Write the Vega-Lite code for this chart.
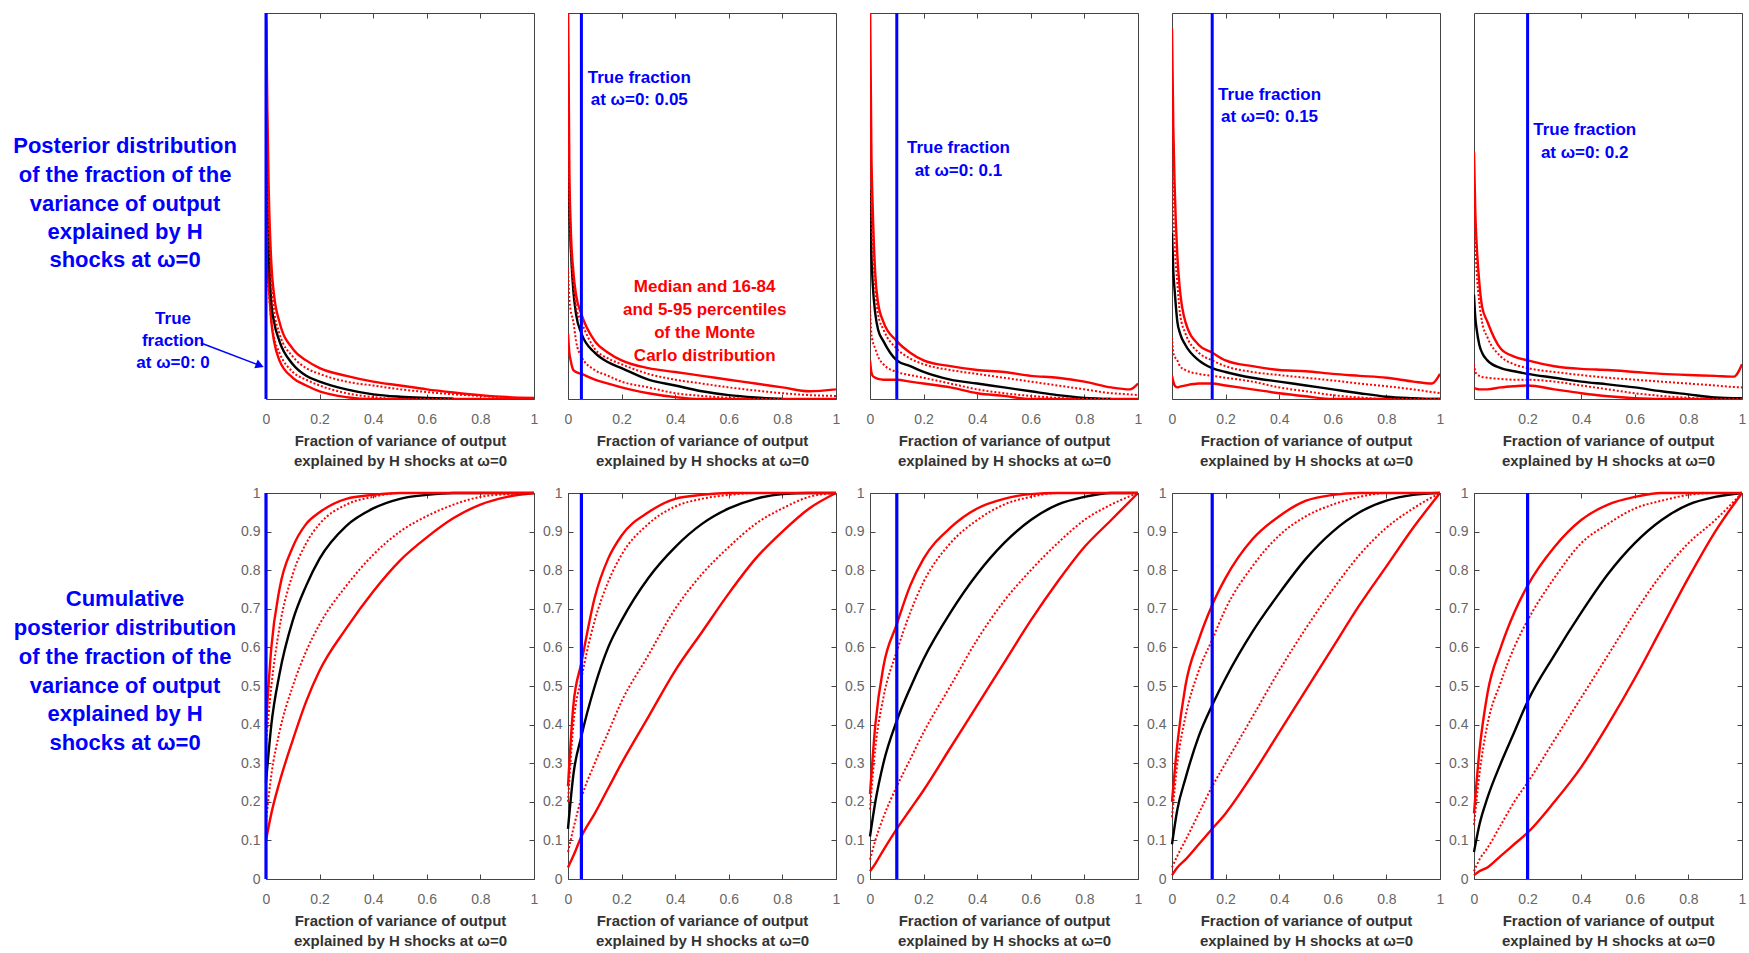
{
"$schema":"https://vega.github.io/schema/vega-lite/v6.json",
"padding":{"left":0,"top":11,"right":0,"bottom":0},
"background":"white",
"config":{"view":{"stroke":"#444","strokeWidth":1},"font":"Liberation Sans",
 "axis":{"labelFont":"Liberation Sans","labelFontSize":14,"labelColor":"#666","titleFont":"Liberation Sans","titleFontSize":15,"titleFontWeight":"bold","titleColor":"#333","tickColor":"#444","tickSize":-5,"domain":false,"grid":false,"labelFlush":false,"labelOverlap":false,"labelBound":false}},
"datasets":{
"dens":[
{"p":1,"x":0,"lo5":0.42,"lo16":0.45,"med":0.98,"hi84":0.65,"hi95":1.05},
{"p":1,"x":0.005,"lo5":0.35,"lo16":0.32,"med":0.6,"hi84":0.55,"hi95":0.75},
{"p":1,"x":0.01,"lo5":0.3,"lo16":0.28,"med":0.4,"hi84":0.45,"hi95":0.55},
{"p":1,"x":0.02,"lo5":0.2,"lo16":0.2,"med":0.25,"hi84":0.3,"hi95":0.35},
{"p":1,"x":0.03,"lo5":0.15,"lo16":0.16,"med":0.2,"hi84":0.23,"hi95":0.27},
{"p":1,"x":0.05,"lo5":0.1,"lo16":0.12,"med":0.15,"hi84":0.17,"hi95":0.2},
{"p":1,"x":0.1,"lo5":0.055,"lo16":0.07,"med":0.09,"hi84":0.11,"hi95":0.13},
{"p":1,"x":0.15,"lo5":0.035,"lo16":0.05,"med":0.06,"hi84":0.08,"hi95":0.1},
{"p":1,"x":0.2,"lo5":0.02,"lo16":0.035,"med":0.045,"hi84":0.065,"hi95":0.08},
{"p":1,"x":0.3,"lo5":0.005,"lo16":0.015,"med":0.025,"hi84":0.045,"hi95":0.06},
{"p":1,"x":0.4,"lo5":0,"lo16":0.005,"med":0.012,"hi84":0.035,"hi95":0.045},
{"p":1,"x":0.5,"lo5":0,"lo16":0,"med":0.006,"hi84":0.025,"hi95":0.035},
{"p":1,"x":0.6,"lo5":0,"lo16":0,"med":0.003,"hi84":0.018,"hi95":0.025},
{"p":1,"x":0.7,"lo5":0,"lo16":0,"med":0.001,"hi84":0.012,"hi95":0.017},
{"p":1,"x":0.8,"lo5":0,"lo16":0,"med":null,"hi84":0.008,"hi95":0.01},
{"p":1,"x":0.9,"lo5":0,"lo16":0,"med":null,"hi84":0.003,"hi95":0.005},
{"p":1,"x":1,"lo5":0,"lo16":0,"med":null,"hi84":0,"hi95":0.003},
{"p":2,"x":0,"lo5":0.17,"lo16":0.34,"med":0.66,"hi84":0.95,"hi95":1.05},
{"p":2,"x":0.005,"lo5":0.12,"lo16":0.26,"med":0.5,"hi84":0.5,"hi95":0.6},
{"p":2,"x":0.01,"lo5":0.1,"lo16":0.23,"med":0.4,"hi84":0.4,"hi95":0.45},
{"p":2,"x":0.02,"lo5":0.075,"lo16":0.2,"med":0.28,"hi84":0.3,"hi95":0.33},
{"p":2,"x":0.03,"lo5":0.07,"lo16":0.15,"med":0.22,"hi84":0.24,"hi95":0.27},
{"p":2,"x":0.05,"lo5":0.065,"lo16":0.11,"med":0.17,"hi84":0.2,"hi95":0.22},
{"p":2,"x":0.1,"lo5":0.05,"lo16":0.075,"med":0.12,"hi84":0.13,"hi95":0.15},
{"p":2,"x":0.15,"lo5":0.04,"lo16":0.06,"med":0.095,"hi84":0.105,"hi95":0.12},
{"p":2,"x":0.2,"lo5":0.03,"lo16":0.045,"med":0.08,"hi84":0.09,"hi95":0.1},
{"p":2,"x":0.3,"lo5":0.015,"lo16":0.03,"med":0.05,"hi84":0.065,"hi95":0.08},
{"p":2,"x":0.4,"lo5":0.005,"lo16":0.015,"med":0.035,"hi84":0.05,"hi95":0.07},
{"p":2,"x":0.5,"lo5":0,"lo16":0.008,"med":0.02,"hi84":0.04,"hi95":0.06},
{"p":2,"x":0.6,"lo5":0,"lo16":0.003,"med":0.01,"hi84":0.03,"hi95":0.05},
{"p":2,"x":0.7,"lo5":0,"lo16":0,"med":0.004,"hi84":0.022,"hi95":0.04},
{"p":2,"x":0.8,"lo5":0,"lo16":0,"med":0,"hi84":0.015,"hi95":0.03},
{"p":2,"x":0.9,"lo5":0,"lo16":0,"med":null,"hi84":0.01,"hi95":0.02},
{"p":2,"x":1,"lo5":0,"lo16":0,"med":null,"hi84":0.008,"hi95":0.025},
{"p":3,"x":0,"lo5":0.1,"lo16":0.24,"med":0.54,"hi84":0.87,"hi95":1.05},
{"p":3,"x":0.005,"lo5":0.07,"lo16":0.17,"med":0.38,"hi84":0.5,"hi95":0.65},
{"p":3,"x":0.01,"lo5":0.06,"lo16":0.15,"med":0.3,"hi84":0.4,"hi95":0.5},
{"p":3,"x":0.02,"lo5":0.055,"lo16":0.13,"med":0.22,"hi84":0.28,"hi95":0.32},
{"p":3,"x":0.03,"lo5":0.052,"lo16":0.11,"med":0.18,"hi84":0.22,"hi95":0.25},
{"p":3,"x":0.05,"lo5":0.05,"lo16":0.09,"med":0.15,"hi84":0.18,"hi95":0.2},
{"p":3,"x":0.1,"lo5":0.05,"lo16":0.07,"med":0.1,"hi84":0.13,"hi95":0.15},
{"p":3,"x":0.15,"lo5":0.045,"lo16":0.062,"med":0.085,"hi84":0.105,"hi95":0.12},
{"p":3,"x":0.2,"lo5":0.04,"lo16":0.055,"med":0.07,"hi84":0.09,"hi95":0.1},
{"p":3,"x":0.3,"lo5":0.03,"lo16":0.04,"med":0.05,"hi84":0.075,"hi95":0.085},
{"p":3,"x":0.4,"lo5":0.015,"lo16":0.025,"med":0.04,"hi84":0.065,"hi95":0.075},
{"p":3,"x":0.5,"lo5":0.008,"lo16":0.015,"med":0.03,"hi84":0.055,"hi95":0.07},
{"p":3,"x":0.6,"lo5":0,"lo16":0.008,"med":0.02,"hi84":0.045,"hi95":0.06},
{"p":3,"x":0.7,"lo5":0,"lo16":0.003,"med":0.01,"hi84":0.035,"hi95":0.055},
{"p":3,"x":0.8,"lo5":0,"lo16":0,"med":0.003,"hi84":0.025,"hi95":0.045},
{"p":3,"x":0.9,"lo5":0,"lo16":0,"med":0,"hi84":0.015,"hi95":0.03},
{"p":3,"x":0.97,"lo5":0,"lo16":0,"med":null,"hi84":0.012,"hi95":0.025},
{"p":3,"x":1,"lo5":0,"lo16":0,"med":null,"hi84":0.01,"hi95":0.04},
{"p":4,"x":0,"lo5":0.06,"lo16":0.16,"med":0.43,"hi84":0.8,"hi95":0.96},
{"p":4,"x":0.005,"lo5":0.045,"lo16":0.12,"med":0.33,"hi84":0.5,"hi95":0.7},
{"p":4,"x":0.01,"lo5":0.035,"lo16":0.11,"med":0.28,"hi84":0.4,"hi95":0.55},
{"p":4,"x":0.02,"lo5":0.03,"lo16":0.1,"med":0.2,"hi84":0.3,"hi95":0.37},
{"p":4,"x":0.03,"lo5":0.032,"lo16":0.085,"med":0.17,"hi84":0.22,"hi95":0.28},
{"p":4,"x":0.05,"lo5":0.035,"lo16":0.075,"med":0.14,"hi84":0.17,"hi95":0.2},
{"p":4,"x":0.1,"lo5":0.04,"lo16":0.065,"med":0.1,"hi84":0.12,"hi95":0.14},
{"p":4,"x":0.15,"lo5":0.04,"lo16":0.06,"med":0.08,"hi84":0.1,"hi95":0.12},
{"p":4,"x":0.2,"lo5":0.035,"lo16":0.055,"med":0.07,"hi84":0.085,"hi95":0.1},
{"p":4,"x":0.3,"lo5":0.025,"lo16":0.045,"med":0.055,"hi84":0.07,"hi95":0.085},
{"p":4,"x":0.4,"lo5":0.015,"lo16":0.03,"med":0.045,"hi84":0.062,"hi95":0.075},
{"p":4,"x":0.5,"lo5":0.007,"lo16":0.02,"med":0.035,"hi84":0.055,"hi95":0.072},
{"p":4,"x":0.6,"lo5":0,"lo16":0.01,"med":0.025,"hi84":0.048,"hi95":0.065},
{"p":4,"x":0.7,"lo5":0,"lo16":0.004,"med":0.015,"hi84":0.04,"hi95":0.06},
{"p":4,"x":0.8,"lo5":0,"lo16":0,"med":0.006,"hi84":0.033,"hi95":0.055},
{"p":4,"x":0.9,"lo5":0,"lo16":0,"med":0.002,"hi84":0.025,"hi95":0.045},
{"p":4,"x":0.97,"lo5":0,"lo16":0,"med":0,"hi84":0.018,"hi95":0.04},
{"p":4,"x":1,"lo5":0,"lo16":0,"med":0,"hi84":0.015,"hi95":0.065},
{"p":5,"x":0,"lo5":0.03,"lo16":0.09,"med":0.27,"hi84":0.5,"hi95":0.64},
{"p":5,"x":0.005,"lo5":0.027,"lo16":0.07,"med":0.21,"hi84":0.4,"hi95":0.48},
{"p":5,"x":0.01,"lo5":0.026,"lo16":0.065,"med":0.18,"hi84":0.33,"hi95":0.4},
{"p":5,"x":0.02,"lo5":0.025,"lo16":0.06,"med":0.14,"hi84":0.25,"hi95":0.3},
{"p":5,"x":0.03,"lo5":0.025,"lo16":0.057,"med":0.12,"hi84":0.2,"hi95":0.24},
{"p":5,"x":0.05,"lo5":0.025,"lo16":0.055,"med":0.1,"hi84":0.16,"hi95":0.2},
{"p":5,"x":0.1,"lo5":0.03,"lo16":0.052,"med":0.08,"hi84":0.11,"hi95":0.13},
{"p":5,"x":0.15,"lo5":0.033,"lo16":0.05,"med":0.072,"hi84":0.09,"hi95":0.11},
{"p":5,"x":0.2,"lo5":0.035,"lo16":0.05,"med":0.065,"hi84":0.08,"hi95":0.1},
{"p":5,"x":0.3,"lo5":0.025,"lo16":0.045,"med":0.055,"hi84":0.07,"hi95":0.085},
{"p":5,"x":0.4,"lo5":0.015,"lo16":0.035,"med":0.045,"hi84":0.062,"hi95":0.078},
{"p":5,"x":0.5,"lo5":0.007,"lo16":0.025,"med":0.038,"hi84":0.055,"hi95":0.075},
{"p":5,"x":0.6,"lo5":0.002,"lo16":0.015,"med":0.03,"hi84":0.05,"hi95":0.07},
{"p":5,"x":0.7,"lo5":0,"lo16":0.008,"med":0.02,"hi84":0.045,"hi95":0.065},
{"p":5,"x":0.8,"lo5":0,"lo16":0.003,"med":0.012,"hi84":0.04,"hi95":0.062},
{"p":5,"x":0.9,"lo5":0,"lo16":0,"med":0.004,"hi84":0.035,"hi95":0.06},
{"p":5,"x":0.97,"lo5":0,"lo16":0,"med":0.002,"hi84":0.031,"hi95":0.058},
{"p":5,"x":1,"lo5":0,"lo16":0,"med":0.002,"hi84":0.03,"hi95":0.09}
],
"cdf":[
{"p":1,"x":0,"lo5":0.1,"lo16":0.15,"med":0.25,"hi84":0.35,"hi95":0.4},
{"p":1,"x":0.02,"lo5":0.17,"lo16":0.27,"med":0.4,"hi84":0.5,"hi95":0.6},
{"p":1,"x":0.05,"lo5":0.25,"lo16":0.38,"med":0.53,"hi84":0.65,"hi95":0.75},
{"p":1,"x":0.1,"lo5":0.36,"lo16":0.5,"med":0.67,"hi84":0.79,"hi95":0.86},
{"p":1,"x":0.15,"lo5":0.46,"lo16":0.59,"med":0.76,"hi84":0.87,"hi95":0.92},
{"p":1,"x":0.2,"lo5":0.54,"lo16":0.66,"med":0.83,"hi84":0.92,"hi95":0.95},
{"p":1,"x":0.3,"lo5":0.65,"lo16":0.76,"med":0.915,"hi84":0.97,"hi95":0.985},
{"p":1,"x":0.4,"lo5":0.745,"lo16":0.84,"med":0.96,"hi84":0.99,"hi95":0.995},
{"p":1,"x":0.5,"lo5":0.825,"lo16":0.9,"med":0.985,"hi84":1,"hi95":1},
{"p":1,"x":0.6,"lo5":0.885,"lo16":0.94,"med":0.995,"hi84":1,"hi95":1},
{"p":1,"x":0.7,"lo5":0.935,"lo16":0.97,"med":1,"hi84":1,"hi95":1},
{"p":1,"x":0.8,"lo5":0.97,"lo16":0.99,"med":1,"hi84":1,"hi95":1},
{"p":1,"x":0.9,"lo5":0.99,"lo16":0.997,"med":1,"hi84":1,"hi95":1},
{"p":1,"x":1,"lo5":1,"lo16":1,"med":1,"hi84":1,"hi95":1},
{"p":2,"x":0,"lo5":0.03,"lo16":0.07,"med":0.13,"hi84":0.2,"hi95":0.24},
{"p":2,"x":0.02,"lo5":0.06,"lo16":0.13,"med":0.27,"hi84":0.4,"hi95":0.45},
{"p":2,"x":0.05,"lo5":0.11,"lo16":0.21,"med":0.37,"hi84":0.52,"hi95":0.56},
{"p":2,"x":0.1,"lo5":0.17,"lo16":0.3,"med":0.5,"hi84":0.67,"hi95":0.73},
{"p":2,"x":0.15,"lo5":0.235,"lo16":0.38,"med":0.6,"hi84":0.77,"hi95":0.83},
{"p":2,"x":0.2,"lo5":0.3,"lo16":0.46,"med":0.67,"hi84":0.84,"hi95":0.89},
{"p":2,"x":0.3,"lo5":0.42,"lo16":0.58,"med":0.78,"hi84":0.92,"hi95":0.95},
{"p":2,"x":0.4,"lo5":0.54,"lo16":0.7,"med":0.86,"hi84":0.965,"hi95":0.985},
{"p":2,"x":0.5,"lo5":0.64,"lo16":0.79,"med":0.92,"hi84":0.985,"hi95":0.995},
{"p":2,"x":0.6,"lo5":0.74,"lo16":0.86,"med":0.96,"hi84":0.995,"hi95":1},
{"p":2,"x":0.7,"lo5":0.83,"lo16":0.92,"med":0.985,"hi84":1,"hi95":1},
{"p":2,"x":0.8,"lo5":0.9,"lo16":0.96,"med":0.997,"hi84":1,"hi95":1},
{"p":2,"x":0.9,"lo5":0.96,"lo16":0.99,"med":1,"hi84":1,"hi95":1},
{"p":2,"x":1,"lo5":1,"lo16":1,"med":1,"hi84":1,"hi95":1},
{"p":3,"x":0,"lo5":0.02,"lo16":0.05,"med":0.11,"hi84":0.18,"hi95":0.22},
{"p":3,"x":0.02,"lo5":0.04,"lo16":0.1,"med":0.2,"hi84":0.34,"hi95":0.4},
{"p":3,"x":0.05,"lo5":0.075,"lo16":0.16,"med":0.3,"hi84":0.47,"hi95":0.55},
{"p":3,"x":0.1,"lo5":0.13,"lo16":0.24,"med":0.41,"hi84":0.59,"hi95":0.66},
{"p":3,"x":0.15,"lo5":0.18,"lo16":0.31,"med":0.495,"hi84":0.69,"hi95":0.76},
{"p":3,"x":0.2,"lo5":0.23,"lo16":0.38,"med":0.57,"hi84":0.77,"hi95":0.83},
{"p":3,"x":0.3,"lo5":0.34,"lo16":0.5,"med":0.69,"hi84":0.87,"hi95":0.91},
{"p":3,"x":0.4,"lo5":0.45,"lo16":0.62,"med":0.79,"hi84":0.93,"hi95":0.96},
{"p":3,"x":0.5,"lo5":0.56,"lo16":0.72,"med":0.87,"hi84":0.97,"hi95":0.985},
{"p":3,"x":0.6,"lo5":0.67,"lo16":0.8,"med":0.93,"hi84":0.99,"hi95":0.997},
{"p":3,"x":0.7,"lo5":0.77,"lo16":0.87,"med":0.97,"hi84":1,"hi95":1},
{"p":3,"x":0.8,"lo5":0.86,"lo16":0.93,"med":0.99,"hi84":1,"hi95":1},
{"p":3,"x":0.9,"lo5":0.93,"lo16":0.97,"med":1,"hi84":1,"hi95":1},
{"p":3,"x":1,"lo5":1,"lo16":1,"med":1,"hi84":1,"hi95":1},
{"p":4,"x":0,"lo5":0.01,"lo16":0.03,"med":0.09,"hi84":0.16,"hi95":0.2},
{"p":4,"x":0.02,"lo5":0.03,"lo16":0.06,"med":0.18,"hi84":0.3,"hi95":0.35},
{"p":4,"x":0.05,"lo5":0.05,"lo16":0.1,"med":0.26,"hi84":0.42,"hi95":0.5},
{"p":4,"x":0.1,"lo5":0.09,"lo16":0.17,"med":0.37,"hi84":0.54,"hi95":0.62},
{"p":4,"x":0.15,"lo5":0.13,"lo16":0.24,"med":0.45,"hi84":0.62,"hi95":0.71},
{"p":4,"x":0.2,"lo5":0.17,"lo16":0.3,"med":0.52,"hi84":0.7,"hi95":0.78},
{"p":4,"x":0.3,"lo5":0.27,"lo16":0.42,"med":0.64,"hi84":0.81,"hi95":0.88},
{"p":4,"x":0.4,"lo5":0.38,"lo16":0.54,"med":0.74,"hi84":0.89,"hi95":0.94},
{"p":4,"x":0.5,"lo5":0.49,"lo16":0.65,"med":0.83,"hi84":0.94,"hi95":0.98},
{"p":4,"x":0.6,"lo5":0.6,"lo16":0.75,"med":0.9,"hi84":0.97,"hi95":0.995},
{"p":4,"x":0.7,"lo5":0.71,"lo16":0.84,"med":0.95,"hi84":0.99,"hi95":1},
{"p":4,"x":0.8,"lo5":0.81,"lo16":0.91,"med":0.98,"hi84":1,"hi95":1},
{"p":4,"x":0.9,"lo5":0.91,"lo16":0.96,"med":0.995,"hi84":1,"hi95":1},
{"p":4,"x":1,"lo5":1,"lo16":1,"med":1,"hi84":1,"hi95":1},
{"p":5,"x":0,"lo5":0.01,"lo16":0.02,"med":0.07,"hi84":0.14,"hi95":0.17},
{"p":5,"x":0.02,"lo5":0.02,"lo16":0.05,"med":0.14,"hi84":0.27,"hi95":0.33},
{"p":5,"x":0.05,"lo5":0.03,"lo16":0.08,"med":0.21,"hi84":0.4,"hi95":0.48},
{"p":5,"x":0.1,"lo5":0.06,"lo16":0.14,"med":0.3,"hi84":0.51,"hi95":0.6},
{"p":5,"x":0.15,"lo5":0.09,"lo16":0.2,"med":0.38,"hi84":0.6,"hi95":0.69},
{"p":5,"x":0.2,"lo5":0.12,"lo16":0.25,"med":0.46,"hi84":0.67,"hi95":0.76},
{"p":5,"x":0.3,"lo5":0.2,"lo16":0.36,"med":0.58,"hi84":0.78,"hi95":0.86},
{"p":5,"x":0.4,"lo5":0.29,"lo16":0.47,"med":0.69,"hi84":0.87,"hi95":0.93},
{"p":5,"x":0.5,"lo5":0.4,"lo16":0.58,"med":0.79,"hi84":0.92,"hi95":0.97},
{"p":5,"x":0.6,"lo5":0.52,"lo16":0.69,"med":0.87,"hi84":0.96,"hi95":0.99},
{"p":5,"x":0.7,"lo5":0.65,"lo16":0.79,"med":0.93,"hi84":0.98,"hi95":1},
{"p":5,"x":0.8,"lo5":0.78,"lo16":0.87,"med":0.97,"hi84":0.995,"hi95":1},
{"p":5,"x":0.9,"lo5":0.9,"lo16":0.93,"med":0.99,"hi84":1,"hi95":1},
{"p":5,"x":1,"lo5":1,"lo16":1,"med":1,"hi84":1,"hi95":1}
],
"truth":[{"p":1,"t":0},{"p":2,"t":0.05},{"p":3,"t":0.1},{"p":4,"t":0.15},{"p":5,"t":0.2}],
"notes":[
{"p":2,"x":0.266,"y":0.832,"c":"b","text":"True fraction"},
{"p":2,"x":0.266,"y":0.774,"c":"b","text":"at ω=0: 0.05"},
{"p":2,"x":0.51,"y":0.289,"c":"r","text":"Median and 16-84"},
{"p":2,"x":0.51,"y":0.231,"c":"r","text":"and 5-95 percentiles"},
{"p":2,"x":0.51,"y":0.171,"c":"r","text":"of the Monte"},
{"p":2,"x":0.51,"y":0.111,"c":"r","text":"Carlo distribution"},
{"p":3,"x":0.33,"y":0.649,"c":"b","text":"True fraction"},
{"p":3,"x":0.33,"y":0.591,"c":"b","text":"at ω=0: 0.1"},
{"p":4,"x":0.364,"y":0.788,"c":"b","text":"True fraction"},
{"p":4,"x":0.364,"y":0.73,"c":"b","text":"at ω=0: 0.15"},
{"p":5,"x":0.413,"y":0.696,"c":"b","text":"True fraction"},
{"p":5,"x":0.413,"y":0.638,"c":"b","text":"at ω=0: 0.2"}
],
"left":[
{"r":1,"k":"t","x":0.539,"y":0.655,"text":"Posterior distribution"},
{"r":1,"k":"t","x":0.539,"y":0.58,"text":"of the fraction of the"},
{"r":1,"k":"t","x":0.539,"y":0.505,"text":"variance of output"},
{"r":1,"k":"t","x":0.539,"y":0.433,"text":"explained by H"},
{"r":1,"k":"t","x":0.539,"y":0.36,"text":"shocks at ω=0"},
{"r":1,"k":"n","x":0.746,"y":0.207,"text":"True"},
{"r":1,"k":"n","x":0.746,"y":0.15,"text":"fraction"},
{"r":1,"k":"n","x":0.746,"y":0.093,"text":"at ω=0: 0"},
{"r":2,"k":"t","x":0.539,"y":0.725,"text":"Cumulative"},
{"r":2,"k":"t","x":0.539,"y":0.65,"text":"posterior distribution"},
{"r":2,"k":"t","x":0.539,"y":0.575,"text":"of the fraction of the"},
{"r":2,"k":"t","x":0.539,"y":0.5,"text":"variance of output"},
{"r":2,"k":"t","x":0.539,"y":0.427,"text":"explained by H"},
{"r":2,"k":"t","x":0.539,"y":0.352,"text":"shocks at ω=0"}
],
"arrow":[{"x":0.866,"y":0.145,"x2":1.12,"y2":0.087}]
},
"columns":6,
"spacing":{"row":94,"column":34},
"bounds":"flush",
"concat":[
 {"width":232,"height":386,"view":{"stroke":null},
  "layer":[
   {"data":{"name":"left"},"transform":[{"filter":"datum.r==1 && datum.k=='t'"}],"mark":{"type":"text","fontSize":22,"fontWeight":"bold","color":"#0000ff","align":"center","baseline":"middle"},"encoding":{"x":{"field":"x","type":"quantitative","scale":{"domain":[0,1]},"axis":null},"y":{"field":"y","type":"quantitative","scale":{"domain":[0,1]},"axis":null},"text":{"field":"text"}}},
   {"data":{"name":"left"},"transform":[{"filter":"datum.r==1 && datum.k=='n'"}],"mark":{"type":"text","fontSize":17,"fontWeight":"bold","color":"#0000ff","align":"center","baseline":"middle"},"encoding":{"x":{"field":"x","type":"quantitative","axis":null},"y":{"field":"y","type":"quantitative","axis":null},"text":{"field":"text"}}},
   {"data":{"name":"arrow"},"mark":{"type":"rule","color":"#0000ff","strokeWidth":1.5},"encoding":{"x":{"field":"x","type":"quantitative","axis":null},"y":{"field":"y","type":"quantitative","axis":null},"x2":{"field":"x2"},"y2":{"field":"y2"}}},
   {"data":{"name":"arrow"},"mark":{"type":"point","shape":"triangle-right","filled":true,"color":"#0000ff","size":90,"angle":21,"opacity":1},"encoding":{"x":{"field":"x2","type":"quantitative","axis":null},"y":{"field":"y2","type":"quantitative","axis":null}}}
  ]},
  {"width":268,"height":386,"resolve":{"axis":{"x":"independent","y":"independent"},"scale":{"color":"independent"}},"layer":[
   {"data":{"name":"dens"},"transform":[{"filter":"datum.p==1"},{"fold":["lo5","med","hi95"],"as":["s","v"]},{"filter":"isValid(datum.v)"}],"mark":{"type":"line","clip":true,"interpolate":"monotone","strokeWidth":2.4},"encoding":{"x":{"field":"x","type":"quantitative","scale":{"domain":[0,1]},"axis":{"orient":"bottom","values":[0,0.2,0.4,0.6,0.8,1],"format":".1~f","labelPadding":18,"title":["Fraction of variance of output","explained by H shocks at ω=0"],"titlePadding":7,"titleLineHeight":20}},"y":{"field":"v","type":"quantitative","scale":{"domain":[0,1]},"axis":null},"color":{"field":"s","type":"nominal","scale":{"domain":["lo5","med","hi95"],"range":["#ff0000","#000000","#ff0000"]},"legend":null}}},
   {"data":{"name":"dens"},"transform":[{"filter":"datum.p==1"},{"fold":["lo16","hi84"],"as":["s","v"]},{"filter":"isValid(datum.v)"}],"mark":{"type":"line","clip":true,"interpolate":"monotone","strokeWidth":2,"strokeDash":[2,2],"color":"#ff0000"},"encoding":{"x":{"field":"x","type":"quantitative","axis":{"orient":"top","values":[0,0.2,0.4,0.6,0.8,1],"labels":false,"title":null}},"y":{"field":"v","type":"quantitative","axis":null},"detail":{"field":"s"}}},
   {"data":{"name":"truth"},"transform":[{"filter":"datum.p==1"}],"mark":{"type":"rule","color":"#0000ff","strokeWidth":3},"encoding":{"x":{"field":"t","type":"quantitative","axis":null}}}
  ]},
  {"width":268,"height":386,"resolve":{"axis":{"x":"independent","y":"independent"},"scale":{"color":"independent"}},"layer":[
   {"data":{"name":"dens"},"transform":[{"filter":"datum.p==2"},{"fold":["lo5","med","hi95"],"as":["s","v"]},{"filter":"isValid(datum.v)"}],"mark":{"type":"line","clip":true,"interpolate":"monotone","strokeWidth":2.4},"encoding":{"x":{"field":"x","type":"quantitative","scale":{"domain":[0,1]},"axis":{"orient":"bottom","values":[0,0.2,0.4,0.6,0.8,1],"format":".1~f","labelPadding":18,"title":["Fraction of variance of output","explained by H shocks at ω=0"],"titlePadding":7,"titleLineHeight":20}},"y":{"field":"v","type":"quantitative","scale":{"domain":[0,1]},"axis":null},"color":{"field":"s","type":"nominal","scale":{"domain":["lo5","med","hi95"],"range":["#ff0000","#000000","#ff0000"]},"legend":null}}},
   {"data":{"name":"dens"},"transform":[{"filter":"datum.p==2"},{"fold":["lo16","hi84"],"as":["s","v"]},{"filter":"isValid(datum.v)"}],"mark":{"type":"line","clip":true,"interpolate":"monotone","strokeWidth":2,"strokeDash":[2,2],"color":"#ff0000"},"encoding":{"x":{"field":"x","type":"quantitative","axis":{"orient":"top","values":[0,0.2,0.4,0.6,0.8,1],"labels":false,"title":null}},"y":{"field":"v","type":"quantitative","axis":null},"detail":{"field":"s"}}},
   {"data":{"name":"truth"},"transform":[{"filter":"datum.p==2"}],"mark":{"type":"rule","color":"#0000ff","strokeWidth":3},"encoding":{"x":{"field":"t","type":"quantitative","axis":null}}},
   {"data":{"name":"notes"},"transform":[{"filter":"datum.p==2"}],"mark":{"type":"text","fontSize":17,"fontWeight":"bold","align":"center","baseline":"middle"},"encoding":{"x":{"field":"x","type":"quantitative","axis":null},"y":{"field":"y","type":"quantitative","axis":null},"text":{"field":"text"},"color":{"field":"c","type":"nominal","scale":{"domain":["b","r"],"range":["#0000ff","#ff0000"]},"legend":null}}}
  ]},
  {"width":268,"height":386,"resolve":{"axis":{"x":"independent","y":"independent"},"scale":{"color":"independent"}},"layer":[
   {"data":{"name":"dens"},"transform":[{"filter":"datum.p==3"},{"fold":["lo5","med","hi95"],"as":["s","v"]},{"filter":"isValid(datum.v)"}],"mark":{"type":"line","clip":true,"interpolate":"monotone","strokeWidth":2.4},"encoding":{"x":{"field":"x","type":"quantitative","scale":{"domain":[0,1]},"axis":{"orient":"bottom","values":[0,0.2,0.4,0.6,0.8,1],"format":".1~f","labelPadding":18,"title":["Fraction of variance of output","explained by H shocks at ω=0"],"titlePadding":7,"titleLineHeight":20}},"y":{"field":"v","type":"quantitative","scale":{"domain":[0,1]},"axis":null},"color":{"field":"s","type":"nominal","scale":{"domain":["lo5","med","hi95"],"range":["#ff0000","#000000","#ff0000"]},"legend":null}}},
   {"data":{"name":"dens"},"transform":[{"filter":"datum.p==3"},{"fold":["lo16","hi84"],"as":["s","v"]},{"filter":"isValid(datum.v)"}],"mark":{"type":"line","clip":true,"interpolate":"monotone","strokeWidth":2,"strokeDash":[2,2],"color":"#ff0000"},"encoding":{"x":{"field":"x","type":"quantitative","axis":{"orient":"top","values":[0,0.2,0.4,0.6,0.8,1],"labels":false,"title":null}},"y":{"field":"v","type":"quantitative","axis":null},"detail":{"field":"s"}}},
   {"data":{"name":"truth"},"transform":[{"filter":"datum.p==3"}],"mark":{"type":"rule","color":"#0000ff","strokeWidth":3},"encoding":{"x":{"field":"t","type":"quantitative","axis":null}}},
   {"data":{"name":"notes"},"transform":[{"filter":"datum.p==3"}],"mark":{"type":"text","fontSize":17,"fontWeight":"bold","align":"center","baseline":"middle"},"encoding":{"x":{"field":"x","type":"quantitative","axis":null},"y":{"field":"y","type":"quantitative","axis":null},"text":{"field":"text"},"color":{"field":"c","type":"nominal","scale":{"domain":["b","r"],"range":["#0000ff","#ff0000"]},"legend":null}}}
  ]},
  {"width":268,"height":386,"resolve":{"axis":{"x":"independent","y":"independent"},"scale":{"color":"independent"}},"layer":[
   {"data":{"name":"dens"},"transform":[{"filter":"datum.p==4"},{"fold":["lo5","med","hi95"],"as":["s","v"]},{"filter":"isValid(datum.v)"}],"mark":{"type":"line","clip":true,"interpolate":"monotone","strokeWidth":2.4},"encoding":{"x":{"field":"x","type":"quantitative","scale":{"domain":[0,1]},"axis":{"orient":"bottom","values":[0,0.2,0.4,0.6,0.8,1],"format":".1~f","labelPadding":18,"title":["Fraction of variance of output","explained by H shocks at ω=0"],"titlePadding":7,"titleLineHeight":20}},"y":{"field":"v","type":"quantitative","scale":{"domain":[0,1]},"axis":null},"color":{"field":"s","type":"nominal","scale":{"domain":["lo5","med","hi95"],"range":["#ff0000","#000000","#ff0000"]},"legend":null}}},
   {"data":{"name":"dens"},"transform":[{"filter":"datum.p==4"},{"fold":["lo16","hi84"],"as":["s","v"]},{"filter":"isValid(datum.v)"}],"mark":{"type":"line","clip":true,"interpolate":"monotone","strokeWidth":2,"strokeDash":[2,2],"color":"#ff0000"},"encoding":{"x":{"field":"x","type":"quantitative","axis":{"orient":"top","values":[0,0.2,0.4,0.6,0.8,1],"labels":false,"title":null}},"y":{"field":"v","type":"quantitative","axis":null},"detail":{"field":"s"}}},
   {"data":{"name":"truth"},"transform":[{"filter":"datum.p==4"}],"mark":{"type":"rule","color":"#0000ff","strokeWidth":3},"encoding":{"x":{"field":"t","type":"quantitative","axis":null}}},
   {"data":{"name":"notes"},"transform":[{"filter":"datum.p==4"}],"mark":{"type":"text","fontSize":17,"fontWeight":"bold","align":"center","baseline":"middle"},"encoding":{"x":{"field":"x","type":"quantitative","axis":null},"y":{"field":"y","type":"quantitative","axis":null},"text":{"field":"text"},"color":{"field":"c","type":"nominal","scale":{"domain":["b","r"],"range":["#0000ff","#ff0000"]},"legend":null}}}
  ]},
  {"width":268,"height":386,"resolve":{"axis":{"x":"independent","y":"independent"},"scale":{"color":"independent"}},"layer":[
   {"data":{"name":"dens"},"transform":[{"filter":"datum.p==5"},{"fold":["lo5","med","hi95"],"as":["s","v"]},{"filter":"isValid(datum.v)"}],"mark":{"type":"line","clip":true,"interpolate":"monotone","strokeWidth":2.4},"encoding":{"x":{"field":"x","type":"quantitative","scale":{"domain":[0,1]},"axis":{"orient":"bottom","values":[0.2,0.4,0.6,0.8,1],"format":".1~f","labelPadding":18,"title":["Fraction of variance of output","explained by H shocks at ω=0"],"titlePadding":7,"titleLineHeight":20}},"y":{"field":"v","type":"quantitative","scale":{"domain":[0,1]},"axis":null},"color":{"field":"s","type":"nominal","scale":{"domain":["lo5","med","hi95"],"range":["#ff0000","#000000","#ff0000"]},"legend":null}}},
   {"data":{"name":"dens"},"transform":[{"filter":"datum.p==5"},{"fold":["lo16","hi84"],"as":["s","v"]},{"filter":"isValid(datum.v)"}],"mark":{"type":"line","clip":true,"interpolate":"monotone","strokeWidth":2,"strokeDash":[2,2],"color":"#ff0000"},"encoding":{"x":{"field":"x","type":"quantitative","axis":{"orient":"top","values":[0.2,0.4,0.6,0.8,1],"labels":false,"title":null}},"y":{"field":"v","type":"quantitative","axis":null},"detail":{"field":"s"}}},
   {"data":{"name":"truth"},"transform":[{"filter":"datum.p==5"}],"mark":{"type":"rule","color":"#0000ff","strokeWidth":3},"encoding":{"x":{"field":"t","type":"quantitative","axis":null}}},
   {"data":{"name":"notes"},"transform":[{"filter":"datum.p==5"}],"mark":{"type":"text","fontSize":17,"fontWeight":"bold","align":"center","baseline":"middle"},"encoding":{"x":{"field":"x","type":"quantitative","axis":null},"y":{"field":"y","type":"quantitative","axis":null},"text":{"field":"text"},"color":{"field":"c","type":"nominal","scale":{"domain":["b","r"],"range":["#0000ff","#ff0000"]},"legend":null}}}
  ]},
 {"width":232,"height":386,"view":{"stroke":null},
  "layer":[
   {"data":{"name":"left"},"transform":[{"filter":"datum.r==2"}],"mark":{"type":"text","fontSize":22,"fontWeight":"bold","color":"#0000ff","align":"center","baseline":"middle"},"encoding":{"x":{"field":"x","type":"quantitative","scale":{"domain":[0,1]},"axis":null},"y":{"field":"y","type":"quantitative","scale":{"domain":[0,1]},"axis":null},"text":{"field":"text"}}}
  ]},
  {"width":268,"height":386,"resolve":{"axis":{"x":"independent","y":"independent"}},"layer":[
   {"data":{"name":"cdf"},"transform":[{"filter":"datum.p==1"},{"fold":["lo5","med","hi95"],"as":["s","v"]}],"mark":{"type":"line","interpolate":"monotone","strokeWidth":2.4},"encoding":{"x":{"field":"x","type":"quantitative","scale":{"domain":[0,1]},"axis":{"orient":"bottom","values":[0,0.2,0.4,0.6,0.8,1],"format":".1~f","labelPadding":18,"title":["Fraction of variance of output","explained by H shocks at ω=0"],"titlePadding":7,"titleLineHeight":20}},"y":{"field":"v","type":"quantitative","scale":{"domain":[0,1]},"axis":{"orient":"left","values":[0,0.1,0.2,0.3,0.4,0.5,0.6,0.7,0.8,0.9,1],"format":".1~f","labelPadding":11,"title":null}},"color":{"field":"s","type":"nominal","scale":{"domain":["lo5","med","hi95"],"range":["#ff0000","#000000","#ff0000"]},"legend":null}}},
   {"data":{"name":"cdf"},"transform":[{"filter":"datum.p==1"},{"fold":["lo16","hi84"],"as":["s","v"]}],"mark":{"type":"line","interpolate":"monotone","strokeWidth":2,"strokeDash":[2,2],"color":"#ff0000"},"encoding":{"x":{"field":"x","type":"quantitative","axis":{"orient":"top","values":[0,0.2,0.4,0.6,0.8,1],"labels":false,"title":null}},"y":{"field":"v","type":"quantitative","axis":{"orient":"right","values":[0,0.1,0.2,0.3,0.4,0.5,0.6,0.7,0.8,0.9,1],"labels":false,"title":null}},"detail":{"field":"s"}}},
   {"data":{"name":"truth"},"transform":[{"filter":"datum.p==1"}],"mark":{"type":"rule","color":"#0000ff","strokeWidth":3.2},"encoding":{"x":{"field":"t","type":"quantitative","axis":null}}}
  ]},
  {"width":268,"height":386,"resolve":{"axis":{"x":"independent","y":"independent"}},"layer":[
   {"data":{"name":"cdf"},"transform":[{"filter":"datum.p==2"},{"fold":["lo5","med","hi95"],"as":["s","v"]}],"mark":{"type":"line","interpolate":"monotone","strokeWidth":2.4},"encoding":{"x":{"field":"x","type":"quantitative","scale":{"domain":[0,1]},"axis":{"orient":"bottom","values":[0,0.2,0.4,0.6,0.8,1],"format":".1~f","labelPadding":18,"title":["Fraction of variance of output","explained by H shocks at ω=0"],"titlePadding":7,"titleLineHeight":20}},"y":{"field":"v","type":"quantitative","scale":{"domain":[0,1]},"axis":{"orient":"left","values":[0,0.1,0.2,0.3,0.4,0.5,0.6,0.7,0.8,0.9,1],"format":".1~f","labelPadding":11,"title":null}},"color":{"field":"s","type":"nominal","scale":{"domain":["lo5","med","hi95"],"range":["#ff0000","#000000","#ff0000"]},"legend":null}}},
   {"data":{"name":"cdf"},"transform":[{"filter":"datum.p==2"},{"fold":["lo16","hi84"],"as":["s","v"]}],"mark":{"type":"line","interpolate":"monotone","strokeWidth":2,"strokeDash":[2,2],"color":"#ff0000"},"encoding":{"x":{"field":"x","type":"quantitative","axis":{"orient":"top","values":[0,0.2,0.4,0.6,0.8,1],"labels":false,"title":null}},"y":{"field":"v","type":"quantitative","axis":{"orient":"right","values":[0,0.1,0.2,0.3,0.4,0.5,0.6,0.7,0.8,0.9,1],"labels":false,"title":null}},"detail":{"field":"s"}}},
   {"data":{"name":"truth"},"transform":[{"filter":"datum.p==2"}],"mark":{"type":"rule","color":"#0000ff","strokeWidth":3.2},"encoding":{"x":{"field":"t","type":"quantitative","axis":null}}}
  ]},
  {"width":268,"height":386,"resolve":{"axis":{"x":"independent","y":"independent"}},"layer":[
   {"data":{"name":"cdf"},"transform":[{"filter":"datum.p==3"},{"fold":["lo5","med","hi95"],"as":["s","v"]}],"mark":{"type":"line","interpolate":"monotone","strokeWidth":2.4},"encoding":{"x":{"field":"x","type":"quantitative","scale":{"domain":[0,1]},"axis":{"orient":"bottom","values":[0,0.2,0.4,0.6,0.8,1],"format":".1~f","labelPadding":18,"title":["Fraction of variance of output","explained by H shocks at ω=0"],"titlePadding":7,"titleLineHeight":20}},"y":{"field":"v","type":"quantitative","scale":{"domain":[0,1]},"axis":{"orient":"left","values":[0,0.1,0.2,0.3,0.4,0.5,0.6,0.7,0.8,0.9,1],"format":".1~f","labelPadding":11,"title":null}},"color":{"field":"s","type":"nominal","scale":{"domain":["lo5","med","hi95"],"range":["#ff0000","#000000","#ff0000"]},"legend":null}}},
   {"data":{"name":"cdf"},"transform":[{"filter":"datum.p==3"},{"fold":["lo16","hi84"],"as":["s","v"]}],"mark":{"type":"line","interpolate":"monotone","strokeWidth":2,"strokeDash":[2,2],"color":"#ff0000"},"encoding":{"x":{"field":"x","type":"quantitative","axis":{"orient":"top","values":[0,0.2,0.4,0.6,0.8,1],"labels":false,"title":null}},"y":{"field":"v","type":"quantitative","axis":{"orient":"right","values":[0,0.1,0.2,0.3,0.4,0.5,0.6,0.7,0.8,0.9,1],"labels":false,"title":null}},"detail":{"field":"s"}}},
   {"data":{"name":"truth"},"transform":[{"filter":"datum.p==3"}],"mark":{"type":"rule","color":"#0000ff","strokeWidth":3.2},"encoding":{"x":{"field":"t","type":"quantitative","axis":null}}}
  ]},
  {"width":268,"height":386,"resolve":{"axis":{"x":"independent","y":"independent"}},"layer":[
   {"data":{"name":"cdf"},"transform":[{"filter":"datum.p==4"},{"fold":["lo5","med","hi95"],"as":["s","v"]}],"mark":{"type":"line","interpolate":"monotone","strokeWidth":2.4},"encoding":{"x":{"field":"x","type":"quantitative","scale":{"domain":[0,1]},"axis":{"orient":"bottom","values":[0,0.2,0.4,0.6,0.8,1],"format":".1~f","labelPadding":18,"title":["Fraction of variance of output","explained by H shocks at ω=0"],"titlePadding":7,"titleLineHeight":20}},"y":{"field":"v","type":"quantitative","scale":{"domain":[0,1]},"axis":{"orient":"left","values":[0,0.1,0.2,0.3,0.4,0.5,0.6,0.7,0.8,0.9,1],"format":".1~f","labelPadding":11,"title":null}},"color":{"field":"s","type":"nominal","scale":{"domain":["lo5","med","hi95"],"range":["#ff0000","#000000","#ff0000"]},"legend":null}}},
   {"data":{"name":"cdf"},"transform":[{"filter":"datum.p==4"},{"fold":["lo16","hi84"],"as":["s","v"]}],"mark":{"type":"line","interpolate":"monotone","strokeWidth":2,"strokeDash":[2,2],"color":"#ff0000"},"encoding":{"x":{"field":"x","type":"quantitative","axis":{"orient":"top","values":[0,0.2,0.4,0.6,0.8,1],"labels":false,"title":null}},"y":{"field":"v","type":"quantitative","axis":{"orient":"right","values":[0,0.1,0.2,0.3,0.4,0.5,0.6,0.7,0.8,0.9,1],"labels":false,"title":null}},"detail":{"field":"s"}}},
   {"data":{"name":"truth"},"transform":[{"filter":"datum.p==4"}],"mark":{"type":"rule","color":"#0000ff","strokeWidth":3.2},"encoding":{"x":{"field":"t","type":"quantitative","axis":null}}}
  ]},
  {"width":268,"height":386,"resolve":{"axis":{"x":"independent","y":"independent"}},"layer":[
   {"data":{"name":"cdf"},"transform":[{"filter":"datum.p==5"},{"fold":["lo5","med","hi95"],"as":["s","v"]}],"mark":{"type":"line","interpolate":"monotone","strokeWidth":2.4},"encoding":{"x":{"field":"x","type":"quantitative","scale":{"domain":[0,1]},"axis":{"orient":"bottom","values":[0,0.2,0.4,0.6,0.8,1],"format":".1~f","labelPadding":18,"title":["Fraction of variance of output","explained by H shocks at ω=0"],"titlePadding":7,"titleLineHeight":20}},"y":{"field":"v","type":"quantitative","scale":{"domain":[0,1]},"axis":{"orient":"left","values":[0,0.1,0.2,0.3,0.4,0.5,0.6,0.7,0.8,0.9,1],"format":".1~f","labelPadding":11,"title":null}},"color":{"field":"s","type":"nominal","scale":{"domain":["lo5","med","hi95"],"range":["#ff0000","#000000","#ff0000"]},"legend":null}}},
   {"data":{"name":"cdf"},"transform":[{"filter":"datum.p==5"},{"fold":["lo16","hi84"],"as":["s","v"]}],"mark":{"type":"line","interpolate":"monotone","strokeWidth":2,"strokeDash":[2,2],"color":"#ff0000"},"encoding":{"x":{"field":"x","type":"quantitative","axis":{"orient":"top","values":[0,0.2,0.4,0.6,0.8,1],"labels":false,"title":null}},"y":{"field":"v","type":"quantitative","axis":{"orient":"right","values":[0,0.1,0.2,0.3,0.4,0.5,0.6,0.7,0.8,0.9,1],"labels":false,"title":null}},"detail":{"field":"s"}}},
   {"data":{"name":"truth"},"transform":[{"filter":"datum.p==5"}],"mark":{"type":"rule","color":"#0000ff","strokeWidth":3.2},"encoding":{"x":{"field":"t","type":"quantitative","axis":null}}}
  ]}
]
}
